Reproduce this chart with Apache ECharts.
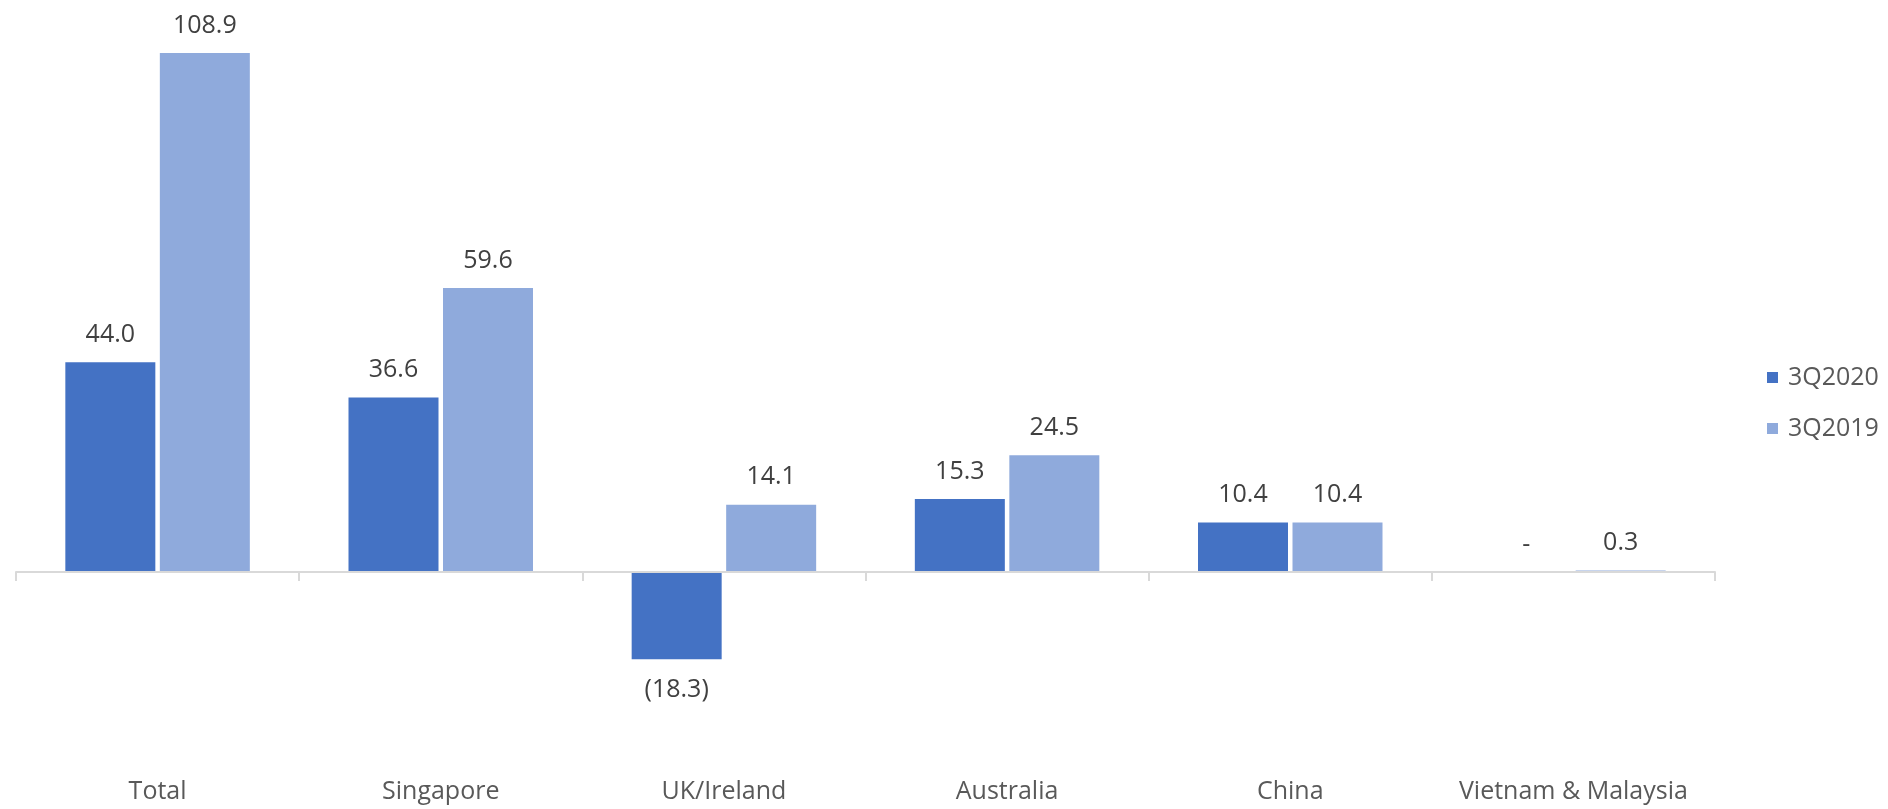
<!DOCTYPE html>
<html>
<head>
<meta charset="utf-8">
<script src="https://cdn.jsdelivr.net/npm/echarts@6/dist/echarts.min.js"></script>
<style>
html,body{margin:0;padding:0;background:#fff;}
#chart{width:1888px;height:809px;}
</style>
</head>
<body>
<div id="chart"></div>
<script>
const categories = ['Total', 'Singapore', 'UK/Ireland', 'Australia', 'China', 'Vietnam & Malaysia'];
const seriesNames = ['3Q2020', '3Q2019'];
const values3Q2020 = [44.0, 36.6, -18.3, 15.3, 10.4, 0];
const values3Q2019 = [108.9, 59.6, 14.1, 24.5, 10.4, 0.3];

const FONT = '"Open Sans", "Noto Sans", sans-serif';
const colors = ['#4472C4', '#8FAADC'];

function fmt(v) {
  if (v === 0) return '-';
  if (v < 0) return '(' + Math.abs(v).toFixed(1) + ')';
  return v.toFixed(1);
}
function toData(arr) {
  return arr.map(v => ({
    value: v,
    label: v < 0 ? { position: 'bottom', distance: 18 } : { position: 'top', distance: 15 }
  }));
}

const chart = echarts.init(document.getElementById('chart'), null, { renderer: 'canvas' });
const labelCfg = {
  show: true,
  fontFamily: FONT,
  fontSize: 25,
  color: '#404040',
  formatter: p => fmt(p.value)
};
chart.setOption({
  animation: false,
  backgroundColor: '#ffffff',
  grid: { left: 16, right: 173, top: 0, bottom: 46.3, containLabel: false },
  legend: {
    orient: 'vertical',
    left: 1762,
    top: 360,
    itemWidth: 11,
    itemHeight: 11,
    itemGap: 26,
    icon: 'rect',
    data: seriesNames,
    textStyle: { fontFamily: FONT, fontSize: 25, color: '#595959', padding: [0, 0, 0, 5] }
  },
  xAxis: [
    {
      type: 'category',
      data: categories,
      z: 5,
      axisLine: { onZero: true, lineStyle: { color: '#D9D9D9', width: 2 } },
      axisTick: { show: true, length: 9, lineStyle: { color: '#D9D9D9', width: 2 } },
      axisLabel: { show: false },
      splitLine: { show: false }
    },
    {
      type: 'category',
      data: categories,
      position: 'bottom',
      axisLine: { show: false, onZero: false },
      axisTick: { show: false },
      axisLabel: { interval: 0, margin: 17, fontFamily: FONT, fontSize: 25, color: '#595959' },
      splitLine: { show: false }
    }
  ],
  yAxis: {
    type: 'value',
    min: -40,
    max: 120,
    show: false,
    splitLine: { show: false }
  },
  series: [
    {
      name: seriesNames[0],
      type: 'bar',
      xAxisIndex: 0,
      data: toData(values3Q2020),
      barWidth: 90,
      barGap: '5%',
      itemStyle: { color: colors[0] },
      label: labelCfg
    },
    {
      name: seriesNames[1],
      type: 'bar',
      xAxisIndex: 0,
      data: toData(values3Q2019),
      barWidth: 90,
      barGap: '5%',
      itemStyle: { color: colors[1] },
      label: labelCfg
    }
  ]
});
</script>
</body>
</html>
